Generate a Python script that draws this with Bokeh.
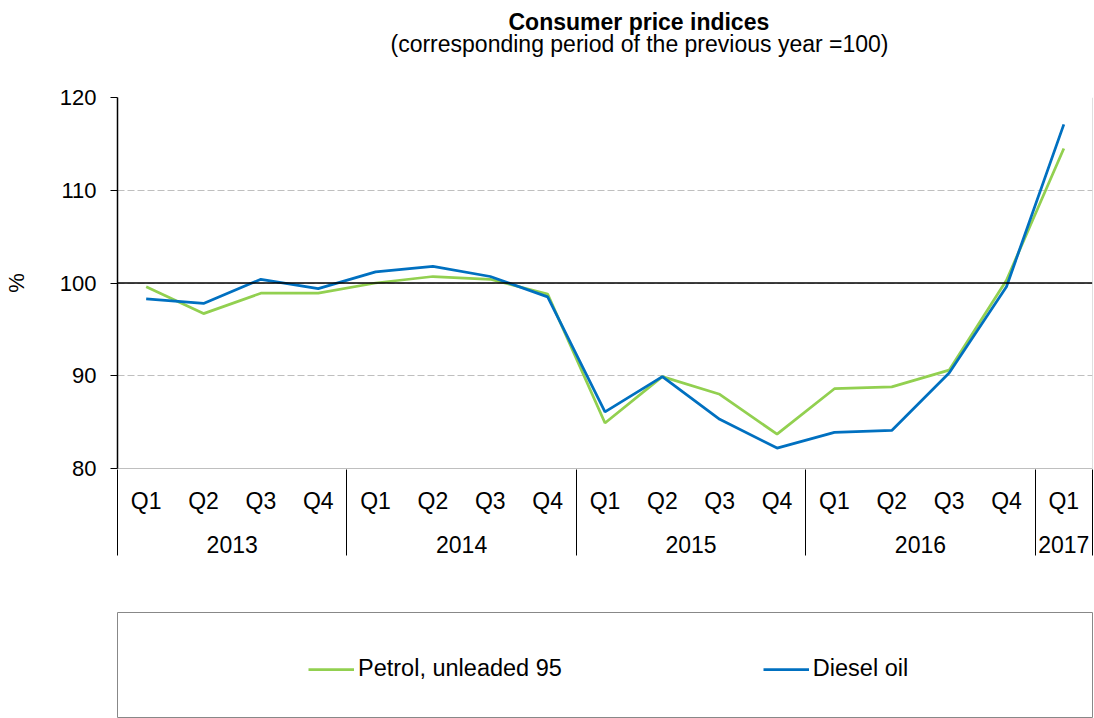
from bokeh.plotting import figure
from bokeh.layouts import column
from bokeh.models import (FactorRange, Range1d, Span, Legend, LegendItem, Title,
                          LinearAxis, FixedTicker)
from bokeh.embed import file_html
from bokeh.resources import INLINE

years = ["2013", "2014", "2015", "2016", "2017"]
quarters_per_year = [["Q1", "Q2", "Q3", "Q4"], ["Q1", "Q2", "Q3", "Q4"],
                     ["Q1", "Q2", "Q3", "Q4"], ["Q1", "Q2", "Q3", "Q4"], ["Q1"]]
petrol = [99.6, 96.7, 98.9, 98.9, 100.0, 100.7, 100.4, 98.8,
          84.9, 89.9, 88.0, 83.7, 88.6, 88.8, 90.6, 100.3, 114.5]
diesel = [98.3, 97.8, 100.4, 99.4, 101.2, 101.8, 100.7, 98.5,
          86.1, 89.9, 85.3, 82.2, 83.9, 84.1, 90.3, 99.6, 117.1]
y_ticks = [80, 90, 100, 110, 120]
reference_level = 100
series_names = ["Petrol, unleaded 95", "Diesel oil"]
colors = ["#92D050", "#0070C0"]
title_text = "Consumer price indices"
subtitle_text = "(corresponding period of the previous year =100)"

factors = [(y, q) for y, qs in zip(years, quarters_per_year) for q in qs]
# year boundaries in the factor range's own (synthetic) coordinates
boundaries = [0]
for qs in quarters_per_year:
    boundaries.append(boundaries[-1] + len(qs))

FONT = "Liberation Sans"

p = figure(width=1094, height=600,
           x_range=FactorRange(factors=factors, factor_padding=0, group_padding=0,
                               subgroup_padding=0, range_padding=0),
           y_range=Range1d(y_ticks[0], y_ticks[-1]),
           output_backend="svg", toolbar_location=None,
           min_border_left=116, min_border_right=2, min_border_top=97, min_border_bottom=132)
p.background_fill_color = None
p.border_fill_color = "white"
p.outline_line_color = None

xa = p.below[0]   # two-level categorical axis
ya = p.left[0]

r1 = p.line(x=factors, y=petrol, line_color=colors[0], line_width=2.75)
r2 = p.line(x=factors, y=diesel, line_color=colors[1], line_width=2.75)

p.add_layout(Span(location=reference_level, dimension="width", line_color="black", line_width=1.5))
p.add_layout(Span(location=boundaries[-1], dimension="height", line_color="#bfbfbf", line_width=1))

# y axis
ya.ticker = y_ticks
ya.axis_line_color = "black"
ya.axis_line_width = 1.5
ya.major_tick_out = 7
ya.major_tick_in = 0
ya.major_tick_line_color = "black"
ya.minor_tick_line_color = None
ya.major_label_standoff = 14
ya.major_label_text_font = FONT
ya.major_label_text_font_size = "22px"
ya.major_label_text_color = "black"
ya.axis_label = "%"
ya.axis_label_text_font = FONT
ya.axis_label_text_font_size = "22px"
ya.axis_label_text_font_style = "normal"
ya.axis_label_text_color = "black"
ya.axis_label_standoff = 28

p.ygrid.ticker = y_ticks
p.ygrid.grid_line_color = "#bfbfbf"
p.ygrid.grid_line_dash = "7 3"
p.xgrid.grid_line_color = None

# x axis (two-level categories)
xa.axis_line_color = "#bfbfbf"
xa.major_tick_line_color = None
xa.major_tick_out = 0
xa.major_tick_in = 0
xa.minor_tick_line_color = None
xa.major_label_standoff = 19
xa.major_label_text_font = FONT
xa.major_label_text_font_size = "23px"
xa.major_label_text_color = "black"
xa.group_text_font = FONT
xa.group_text_font_size = "23px"
xa.group_text_font_style = "normal"
xa.group_text_color = "black"
xa.separator_line_color = None

# year separators: ticks of a label-less axis below, pointing up through the labels
sep = LinearAxis(ticker=FixedTicker(ticks=boundaries), major_tick_in=86, major_tick_out=0,
                 major_tick_line_color="black", major_tick_line_width=1,
                 minor_tick_line_color=None, axis_line_color=None,
                 major_label_text_font_size="0px", major_label_standoff=0,
                 major_label_overrides={b: "" for b in boundaries})
p.add_layout(sep, "below")

# blank spacer between plot and titles (first 'above' item sits closest to the plot)
spacer = LinearAxis(ticker=FixedTicker(ticks=[boundaries[0]]), major_tick_out=40, major_tick_in=0,
                    major_tick_line_color="white", minor_tick_line_color=None,
                    axis_line_color=None, major_label_standoff=0,
                    major_label_text_font_size="0px",
                    major_label_overrides={boundaries[0]: ""})
p.add_layout(spacer, "above")
p.add_layout(Title(text=subtitle_text, text_font=FONT, text_font_size="23px",
                   text_font_style="normal", text_color="black", align="left",
                   offset=273, standoff=2), "above")
p.add_layout(Title(text=title_text, text_font=FONT, text_font_size="23px",
                   text_font_style="bold", text_color="black", align="left",
                   offset=391, standoff=-14), "above")

# legend figure
p2 = figure(width=1094, height=118, x_range=Range1d(0, 1), y_range=Range1d(0, 1),
            output_backend="svg", toolbar_location=None,
            min_border_left=113, min_border_right=2, min_border_top=12, min_border_bottom=0)
p2.axis.visible = False
p2.grid.grid_line_color = None
p2.outline_line_color = "#888888"
l1 = p2.line(x=[float("nan")], y=[float("nan")], line_color=colors[0], line_width=2.75)
l2 = p2.line(x=[float("nan")], y=[float("nan")], line_color=colors[1], line_width=2.75)
leg = Legend(items=[LegendItem(label=series_names[0], renderers=[l1]),
                    LegendItem(label=series_names[1], renderers=[l2])],
             location=(191, 36), orientation="horizontal", spacing=201,
             glyph_width=46, label_standoff=4, border_line_color=None,
             background_fill_color=None, label_text_font=FONT,
             label_text_font_size="23.5px", label_text_color="black")
p2.add_layout(leg)

lay = column(p, p2, spacing=0)
open("out.html", "w").write(file_html(lay, INLINE))
